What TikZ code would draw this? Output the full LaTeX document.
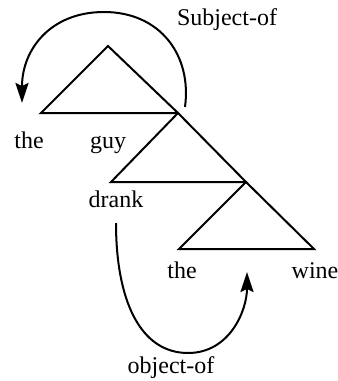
\documentclass[tikz,border=0pt]{standalone}
\usepackage{fontspec}
\setmainfont{Liberation Serif}
\usetikzlibrary{arrows.meta}

\begin{document}
\begin{tikzpicture}[
    x=1pt,y=-1pt,
    tri/.style={line width=2pt,line join=miter},
    word/.style={anchor=base,inner sep=0pt,font=\fontsize{24}{28}\selectfont},
    arr/.style={-{Stealth[length=20pt,width=13pt,inset=3pt]},line width=2pt}
  ]
  \useasboundingbox (0,0) rectangle (338,381);

  %% triangle corners
  \coordinate (t1) at (108,46);
  \coordinate (l1) at (41,113);
  \coordinate (r1) at (178,113);
  \coordinate (l2) at (111,182);
  \coordinate (r2) at (246,182);
  \coordinate (l3) at (179,249);
  \coordinate (r3) at (314,249);

  %% triangles
  \draw[tri] (t1) -- (l1) -- (r1) -- cycle;
  \draw[tri] (r1) -- (l2) -- (r2) -- cycle;
  \draw[tri] (r2) -- (l3) -- (r3) -- cycle;

  %% words
  \node[word] (the1)  at (29,148)  {the};
  \node[word] (guy)   at (108,148) {guy};
  \node[word] (drank) at (116,207) {drank};
  \node[word] (the2)  at (182,278) {the};
  \node[word] (wine)  at (315,278) {wine};

  %% relation labels
  \node[word] (subj) at (227,25)  {Subject-of};
  \node[word] (obj)  at (171,373) {object-of};

  %% arcs
  \coordinate (s0) at (185,107);
  \coordinate (s1) at (22,103);
  \draw[arr] (s0) .. controls (192,55) and (160,12) .. (104,12)
                  .. controls (50,12) and (22,50) .. (s1);
  \coordinate (o0) at (116,223);
  \coordinate (o1) at (247,272);
  \draw[arr] (o0) .. controls (116,300) and (140,353) .. (188,353)
                  .. controls (230,353) and (247,310) .. (o1);
\end{tikzpicture}
\end{document}
